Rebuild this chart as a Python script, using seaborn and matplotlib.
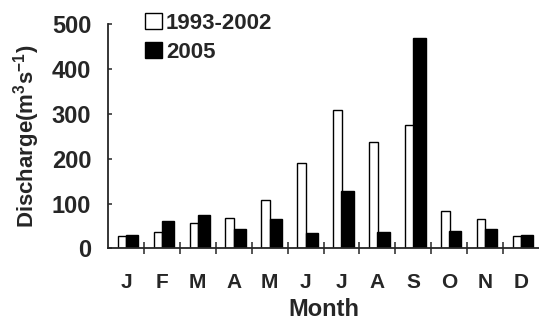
import numpy as np
import pandas as pd
import matplotlib
matplotlib.use("Agg")
import matplotlib.pyplot as plt
import seaborn as sns
from matplotlib.patches import Patch

# Monthly discharge values (m3 s-1)
months = ["J", "F", "M", "A", "M", "J", "J", "A", "S", "O", "N", "D"]
period_labels = ["1993-2002", "2005"]
discharge_mean = [28, 36, 56, 67, 108, 190, 309, 237, 275, 83, 65, 28]
discharge_2005 = [30, 62, 74, 43, 65, 34, 128, 36, 470, 38, 44, 29]
y_ticks = [0, 100, 200, 300, 400, 500]

sns.set_style("ticks")
plt.rcParams["font.family"] = ["Liberation Sans", "DejaVu Sans"]
plt.rcParams["font.weight"] = "bold"
plt.rcParams["mathtext.default"] = "regular"

month_idx = list(range(len(months)))
df = pd.DataFrame({
    "idx": month_idx * 2,
    "value": discharge_mean + discharge_2005,
    "period": [period_labels[0]] * 12 + [period_labels[1]] * 12,
})

fig = plt.figure(figsize=(5.39, 3.24), dpi=100)
ax = fig.add_axes([0.2004, 0.2336, 0.7996, 0.6914])

sns.barplot(data=df, x="idx", y="value", hue="period", order=month_idx,
            hue_order=period_labels, palette=["white", "black"],
            edgecolor="black", linewidth=1.0, width=0.6, legend=False, ax=ax)

# open bars a bit narrower than the solid ones, as in the original
for bar in ax.containers[0]:
    c = bar.get_x() + bar.get_width()
    bar.set_width(0.24)
    bar.set_x(c - 0.24 + 0.01)
for bar in ax.containers[1]:
    bar.set_width(0.34)

ax.set_xlim(-0.5, 11.5)
ax.set_ylim(0, 500)
ax.set_yticks(y_ticks)
ax.set_xticks(month_idx)
ax.set_xticklabels(months)
ax.set_xticks(np.arange(0.5, 11, 1), minor=True)
ax.tick_params(axis="x", which="major", length=0, pad=18, labelsize=15)
ax.tick_params(axis="x", which="minor", direction="inout", length=9, width=1.1)
ax.tick_params(axis="y", direction="in", length=3, width=1.1, pad=12, labelsize=17)

sns.despine(ax=ax)
for s in ["left", "bottom"]:
    ax.spines[s].set_linewidth(1.3)

ax.set_xlabel("Month", fontsize=17, fontweight="bold", labelpad=4)
ax.set_ylabel("Discharge(m$^3$s$^{-1}$)", fontsize=16, fontweight="bold", labelpad=7)

handles = [Patch(facecolor="white", edgecolor="black", linewidth=1.0),
           Patch(facecolor="black", edgecolor="black", linewidth=1.0)]
ax.legend(handles, period_labels, loc="upper left", bbox_to_anchor=(0.065, 1.09),
          frameon=False, fontsize=16, handlelength=0.75, handleheight=0.75,
          handletextpad=0.2, labelspacing=0.35, borderaxespad=0)

fig.savefig("out.png", dpi=100)
